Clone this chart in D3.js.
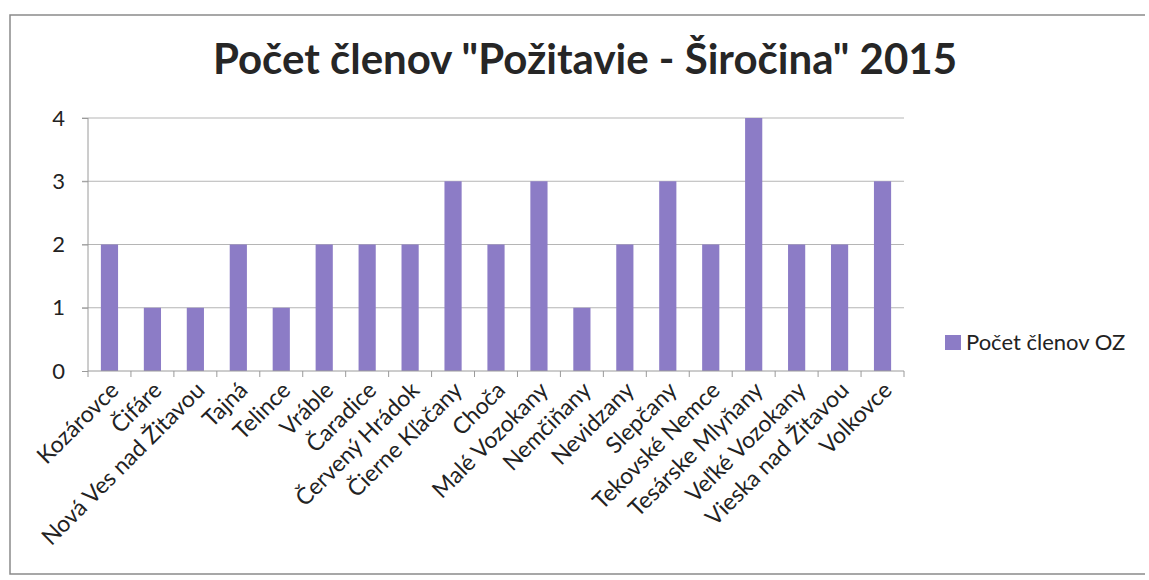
<!DOCTYPE html>
<html><head><meta charset="utf-8">
<script src="https://cdn.jsdelivr.net/npm/d3@7"></script>
<style>body{margin:0;background:#fff}</style>
</head><body>
<svg id="c" width="1149" height="580"></svg>
<script>
const categories = ["Kozárovce","Čifáre","Nová Ves nad Žitavou","Tajná","Telince","Vráble","Čaradice","Červený Hrádok","Čierne Kľačany","Choča","Malé Vozokany","Nemčiňany","Nevidzany","Slepčany","Tekovské Nemce","Tesárske Mlyňany","Veľké Vozokany","Vieska nad Žitavou","Volkovce"];
const values = [2,1,1,2,1,2,2,2,3,2,3,1,2,3,2,4,2,2,3];
const yTicks = [0,1,2,3,4];
const seriesName = "Počet členov OZ";
const title = "Počet členov \"Požitavie - Širočina\" 2015";

const svg = d3.select("#c");
const font = "Lato, 'Open Sans', sans-serif";
const L = 88, R = 904, T = 118, B = 371;

svg.append("path").attr("d", `M1145,15 H10 V574 H1145`).attr("fill","none").attr("stroke","#8a8a8a").attr("stroke-width",1.5);

const x = d3.scaleBand().domain(categories).range([L,R]).paddingInner(0.6).paddingOuter(0.3);
const y = d3.scaleLinear().domain([0,4]).range([B,T]);

// gridlines
svg.append("g").selectAll("line").data(yTicks.filter(d=>d>0)).join("line")
  .attr("x1",L-6).attr("x2",R).attr("y1",d=>y(d)).attr("y2",d=>y(d))
  .attr("stroke","#b5b5b5").attr("stroke-width",1);

// bars
svg.append("g").selectAll("rect").data(values).join("rect")
  .attr("x",(d,i)=>x(categories[i])).attr("width",x.bandwidth())
  .attr("y",d=>y(d)).attr("height",d=>y(0)-y(d))
  .attr("fill","#8c7cc6");

// y axis
const ya = svg.append("g").attr("transform",`translate(${L},0)`)
  .call(d3.axisLeft(y).tickValues(yTicks).tickSize(6).tickPadding(17).tickFormat(d3.format("d")));
ya.select(".domain").attr("stroke","#9a9a9a").attr("d",`M0,${T}V${B}`);
ya.selectAll(".tick line").attr("stroke","#9a9a9a");
ya.selectAll("text").attr("font-family",font).attr("font-size",22).attr("fill","#222");

// x axis
const step = x.step();
const xa = svg.append("g").attr("transform",`translate(0,${B})`);
xa.append("line").attr("x1",L).attr("x2",R).attr("stroke","#9a9a9a");
xa.selectAll("line.t").data(d3.range(categories.length+1)).join("line").attr("class","t")
  .attr("x1",i=>L+i*step).attr("x2",i=>L+i*step).attr("y1",0).attr("y2",6).attr("stroke","#9a9a9a");
xa.selectAll("text").data(categories).join("text")
  .attr("transform",d=>`translate(${x(d)+x.bandwidth()/2+5},${15}) rotate(-45)`)
  .attr("text-anchor","end").attr("dy","0.35em")
  .attr("font-family",font).attr("font-size",23).attr("fill","#222").text(d=>d);

// title
svg.append("text").attr("x",585).attr("y",74).attr("text-anchor","middle")
  .attr("font-family",font).attr("font-weight","bold").attr("font-size",42).attr("fill","#262626").text(title);

// legend
svg.append("rect").attr("x",945).attr("y",335).attr("width",16).attr("height",15).attr("fill","#8c7cc6");
svg.append("text").attr("x",966).attr("y",350).attr("font-family",font).attr("font-size",22).attr("fill","#222").text(seriesName);
</script>
</body></html>
